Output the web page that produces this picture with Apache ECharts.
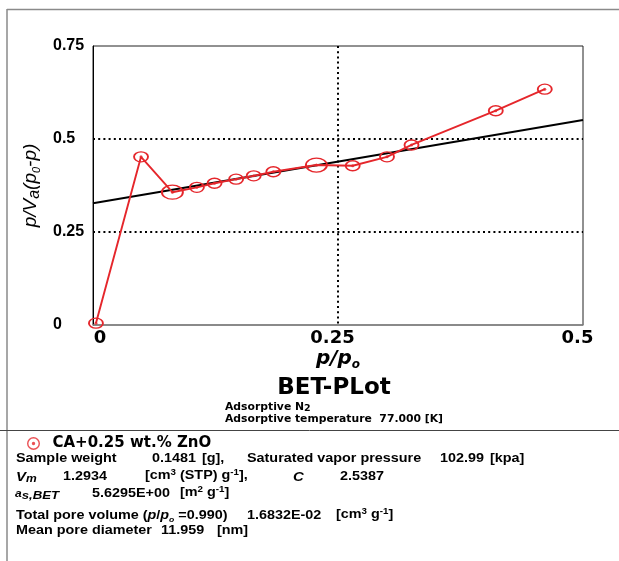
<!DOCTYPE html>
<html>
<head>
<meta charset="utf-8">
<script src="https://cdn.jsdelivr.net/npm/echarts@6/dist/echarts.min.js"></script>
<style>
html,body{margin:0;padding:0;background:#fff;}
#chart{width:619px;height:561px;}
</style>
</head>
<body>
<div id="chart"></div>
<script>
// ---- data ----
const seriesName = 'CA+0.25 wt.% ZnO';
const pRatio = [0.003, 0.049, 0.081, 0.106, 0.124, 0.146, 0.164, 0.184, 0.228, 0.265, 0.300, 0.325, 0.411, 0.461];
const betValue = [0.005, 0.452, 0.357, 0.370, 0.381, 0.392, 0.401, 0.412, 0.430, 0.428, 0.452, 0.484, 0.576, 0.634];
const fitX = [0, 0.5];
const fitY = [0.327, 0.551];
const xTicks = [0, 0.25, 0.5];
const yTicks = [0, 0.25, 0.5, 0.75];

// ---- styling ----
const RED = '#e5262b';
const FONT = 'DejaVu Sans';
const IFONT = 'Liberation Sans';
const bigMarkers = [2, 8];

const pts = pRatio.map((x, i) => [x, betValue[i]]);
const fitPts = fitX.map((x, i) => [x, fitY[i]]);

function rs(size, lh, extra) {
  return Object.assign({fontFamily: IFONT, fontWeight: 'bold', fontSize: size, lineHeight: lh, fill: '#000'}, extra || {});
}
const RICH = {
  n: rs(12.5, 16),
  sup: rs(8.5, 9, {verticalAlign: 'top'}),
  iv: rs(13, 16, {fontStyle: 'italic'}),
  isub: rs(10.5, 11, {fontStyle: 'italic', verticalAlign: 'bottom'}),
  ia: rs(10.5, 16, {fontStyle: 'italic'}),
  isub2: rs(11.5, 12, {fontStyle: 'italic', verticalAlign: 'bottom'}),
  ip: rs(12.5, 16, {fontStyle: 'italic'}),
  sub0: rs(7.5, 8, {fontStyle: 'italic', verticalAlign: 'bottom'}),
  n10: {fontFamily: FONT, fontWeight: 'bold', fontSize: 10.8, lineHeight: 13, fill: '#000'},
  nsub: {fontFamily: FONT, fontWeight: 'bold', fontSize: 9.5, lineHeight: 9, verticalAlign: 'bottom', fill: '#000'}
};

function txt(x, y, text, extra, sx) {
  return {
    type: 'text', x: x, y: y, silent: true, z: 10, scaleX: sx || 1.15,
    style: Object.assign({
      text: text, fill: '#000', fontFamily: IFONT, fontWeight: 'bold', fontSize: 12.5,
      align: 'left', verticalAlign: 'middle', rich: RICH
    }, extra || {})
  };
}

const graphics = [
  {type: 'line', silent: true, shape: {x1: 7, y1: 9.5, x2: 619, y2: 9.5}, style: {stroke: '#8a8a8a', lineWidth: 1.5}},
  {type: 'line', silent: true, shape: {x1: 7, y1: 9, x2: 7, y2: 561}, style: {stroke: '#8a8a8a', lineWidth: 1.5}},
  {type: 'line', silent: true, shape: {x1: 0, y1: 430.5, x2: 619, y2: 430.5}, style: {stroke: '#444', lineWidth: 1}},
  txt(334, 388, 'BET-PLot', {fontFamily: FONT, fontSize: 23, align: 'center'}, 1),
  txt(225, 407, '{n10|Adsorptive N}{nsub|2}', {fontFamily: FONT, fontSize: 10.8}, 1),
  txt(225, 419, 'Adsorptive temperature  77.000 [K]', {fontFamily: FONT, fontSize: 10.8}, 1),
  // row 1
  txt(16, 459, 'Sample weight'),
  txt(152, 459, '0.1481'),
  txt(202, 459, '[g],'),
  txt(247, 459, 'Saturated vapor pressure'),
  txt(440, 459, '102.99'),
  txt(490, 459, '[kpa]'),
  // row 2
  txt(16, 477, '{iv|V}{isub|m}'),
  txt(63, 477, '1.2934'),
  txt(145, 476, '{n|[cm}{sup|3}{n| (STP) g}{sup|-1}{n|],}'),
  txt(293, 477, '{iv|C}'),
  txt(340, 477, '2.5387'),
  // row 3
  txt(15, 494, '{ia|a}{isub2|s,BET}'),
  txt(92, 494, '5.6295E+00'),
  txt(180, 493, '{n|[m}{sup|2}{n| g}{sup|-1}{n|]}'),
  // row 4
  txt(16, 516, '{n|Total pore volume (}{ip|p}{n|/}{ip|p}{sub0|o}{n| =0.990)}'),
  txt(247, 516, '1.6832E-02'),
  txt(336, 515, '{n|[cm}{sup|3}{n| g}{sup|-1}{n|]}'),
  // row 5
  txt(16, 531, 'Mean pore diameter'),
  txt(161, 531, '11.959'),
  txt(217, 531, '[nm]')
];

const ringDot = 'path://M0,-10A10,10 0 1,1 0,10A10,10 0 1,1 0,-10ZM0,-7.8A7.8,7.8 0 1,0 0,7.8A7.8,7.8 0 1,0 0,-7.8ZM0,-2.6A2.6,2.6 0 1,1 0,2.6A2.6,2.6 0 1,1 0,-2.6Z';

const option = {
  animation: false,
  backgroundColor: '#fff',
  grid: {left: 93, right: 36, top: 46, bottom: 236, show: true, borderColor: '#222', borderWidth: 1},
  legend: {
    left: 22, top: 431, itemWidth: 16, itemHeight: 13,
    data: [{name: seriesName, icon: ringDot}],
    itemStyle: {color: RED},
    textStyle: {fontFamily: FONT, fontWeight: 'bold', fontSize: 15, color: '#000', padding: [0, 0, 0, 6]},
    selectedMode: false
  },
  xAxis: {
    type: 'value', min: xTicks[0], max: xTicks[xTicks.length - 1], interval: xTicks[1] - xTicks[0],
    name: '{p|p/p}{s|o}', nameLocation: 'middle', nameGap: 22,
    nameTextStyle: {
      rich: {
        p: {fontFamily: FONT, fontWeight: 'bold', fontStyle: 'italic', fontSize: 20, lineHeight: 24, color: '#000'},
        s: {fontFamily: FONT, fontWeight: 'bold', fontStyle: 'italic', fontSize: 12, lineHeight: 12, verticalAlign: 'bottom', color: '#000'}
      }
    },
    axisLine: {lineStyle: {color: '#888', width: 1.5}},
    axisTick: {show: false},
    axisLabel: {
      margin: 4,
      formatter: function (v) { return v === 0 ? '{l|' + v + '}' : '{r|' + v + '}'; },
      rich: {
        l: {fontFamily: FONT, fontWeight: 'bold', fontSize: 18, color: '#000', padding: [0, 0, 0, 14]},
        r: {fontFamily: FONT, fontWeight: 'bold', fontSize: 18, color: '#000', padding: [0, 11, 0, 0]}
      }
    },
    splitLine: {show: true, showMinLine: false, showMaxLine: false, lineStyle: {color: '#000', type: [2, 3.2], width: 2}}
  },
  yAxis: {
    type: 'value', min: yTicks[0], max: yTicks[yTicks.length - 1], interval: yTicks[1] - yTicks[0],
    name: '{p|p/V}{s|a}{p|(p}{t|0}{p|-p)}', nameLocation: 'middle', nameGap: 47, nameRotate: 90,
    nameTextStyle: {
      rich: {
        p: {fontFamily: IFONT, fontStyle: 'italic', fontSize: 19, lineHeight: 22, color: '#000'},
        s: {fontFamily: IFONT, fontStyle: 'italic', fontSize: 16, lineHeight: 16, verticalAlign: 'bottom', color: '#000'},
        t: {fontFamily: IFONT, fontStyle: 'italic', fontSize: 11, lineHeight: 11, verticalAlign: 'bottom', color: '#000'}
      }
    },
    axisLine: {lineStyle: {color: '#000', width: 1}},
    axisTick: {show: false},
    axisLabel: {fontFamily: IFONT, fontWeight: 'bold', fontSize: 16, color: '#000', align: 'left', margin: 40},
    splitLine: {show: true, showMinLine: false, showMaxLine: false, lineStyle: {color: '#000', type: [2, 3.2], width: 2}}
  },
  series: [
    {
      name: 'fit', type: 'line', data: fitPts, showSymbol: false, symbol: 'none',
      lineStyle: {color: '#000', width: 2}, z: 2, silent: true
    },
    {
      name: 'points', type: 'line', data: pts, symbol: 'circle',
      symbolSize: function (v, p) { return bigMarkers.indexOf(p.dataIndex) >= 0 ? [21, 14] : [14, 10]; },
      itemStyle: {color: 'rgba(0,0,0,0)', borderColor: RED, borderWidth: 1.6},
      lineStyle: {color: RED, width: 1.9}, z: 3, silent: true
    },
    {
      name: seriesName, type: 'scatter', data: pts, symbol: 'circle', symbolSize: 3,
      itemStyle: {color: RED}, z: 4, silent: true
    }
  ],
  graphic: graphics
};

const chart = echarts.init(document.getElementById('chart'), null, {renderer: 'canvas'});
chart.setOption(option);
</script>
</body>
</html>
